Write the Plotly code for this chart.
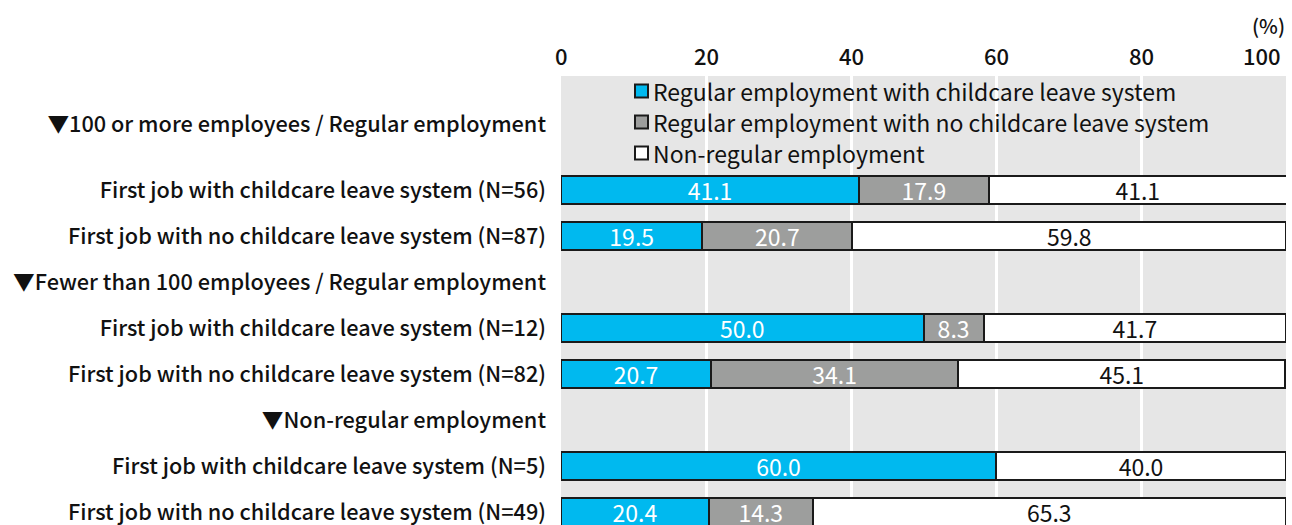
import plotly.graph_objects as go

# Row labels (top to bottom) and section headers
rows = [
    "First job with childcare leave system (N=56)",
    "First job with no childcare leave system (N=87)",
    "First job with childcare leave system (N=12)",
    "First job with no childcare leave system (N=82)",
    "First job with childcare leave system (N=5)",
    "First job with no childcare leave system (N=49)",
]
headers = [
    "▼100 or more employees / Regular employment",
    "▼Fewer than 100 employees / Regular employment",
    "▼Non-regular employment",
]

series_names = [
    "Regular employment with childcare leave system",
    "Regular employment with no childcare leave system",
    "Non-regular employment",
]
regular_with_leave = [41.1, 19.5, 50.0, 20.7, 60.0, 20.4]
regular_no_leave = [17.9, 20.7, 8.3, 34.1, 0.0, 14.3]
non_regular = [41.1, 59.8, 41.7, 45.1, 40.0, 65.3]

tick_values = [0, 20, 40, 60, 80, 100]
tick_labels = ["0", "20", "40", "60", "80", "100"]

# Styling
colors = ["#00b9ef", "#9d9e9d", "#ffffff"]
text_colors = ["#ffffff", "#ffffff", "#111111"]
FONT = "Noto Sans CJK JP"
W, H = 1292, 525
M_L, M_R, M_T, M_B = 561, 6, 76, 0

# Vertical slots: each group is a header followed by its two rows
row_slots = [0, 1, 3, 4, 6, 7]
header_slots = [-1.435, 2, 5]
y_range = [7.283, -2.478]

fig = go.Figure()
for name, vals, col, tcol in zip(series_names,
                                 [regular_with_leave, regular_no_leave, non_regular],
                                 colors, text_colors):
    fig.add_trace(go.Bar(
        name=name,
        x=vals,
        y=row_slots,
        orientation="h",
        width=0.59,
        marker=dict(color=col, line=dict(color="#1a1a1a", width=2)),
        text=[f"{v:.1f}" if v > 0 else "" for v in vals],
        textposition="inside",
        insidetextanchor="middle",
        constraintext="none",
        textangle=0,
        textfont=dict(family=FONT, size=23, color=tcol),
        showlegend=False,
        hoverinfo="x+name",
    ))

fig.update_layout(
    barmode="stack",
    width=W, height=H,
    margin=dict(l=M_L, r=M_R, t=M_T, b=M_B),
    paper_bgcolor="#ffffff",
    plot_bgcolor="#e6e6e6",
    font=dict(family=FONT, color="#111111"),
    xaxis=dict(
        range=[0, 100],
        tickvals=tick_values[1:-1],
        showticklabels=False,
        showgrid=True, gridcolor="#ffffff", gridwidth=3,
        zeroline=False, showline=False, ticks="",
        fixedrange=True,
    ),
    yaxis=dict(
        range=y_range,
        tickvals=row_slots + header_slots,
        ticktext=rows + headers,
        tickfont=dict(family=FONT, size=21.7, color="#111111", weight=500),
        ticklabelstandoff=14,
        ticklabeloverflow="allow",
        showgrid=False, zeroline=False, showline=False, ticks="",
        fixedrange=True,
    ),
)

# Percentage scale above the plot area
plot_w, plot_h = W - M_L - M_R, H - M_T - M_B


def paper_y(py):
    return (H - M_B - py) / plot_h


for v, lab in zip(tick_values, tick_labels):
    last = v == tick_values[-1]
    fig.add_annotation(
        x=v, xref="x", y=paper_y(55), yref="paper", yanchor="middle",
        text=lab, showarrow=False,
        xanchor="right" if last else "center",
        xshift=-3 if last else 0,
        font=dict(family=FONT, size=22, color="#111111", weight=500),
    )

fig.add_annotation(
    x=1, xref="paper", xanchor="right", xshift=1,
    y=paper_y(26), yref="paper", yanchor="middle",
    text="(%)", showarrow=False,
    font=dict(family=FONT, size=20, color="#111111", weight=500),
)

# Legend drawn inside the top of the plot area
legend_px_y = [91, 122, 153]
box_x0, box_x1, text_x = 635, 648, 651
for name, col, py in zip(series_names, colors, legend_px_y):
    yc = paper_y(py)
    half = 6.5 / plot_h
    fig.add_shape(
        type="rect", xref="paper", yref="paper",
        x0=(box_x0 - M_L) / plot_w, x1=(box_x1 - M_L) / plot_w,
        y0=yc - half, y1=yc + half,
        fillcolor=col, line=dict(color="#1a1a1a", width=2),
    )
    fig.add_annotation(
        x=(text_x - M_L) / plot_w, xref="paper", xanchor="left",
        y=yc, yref="paper", yanchor="middle",
        text=name, showarrow=False,
        font=dict(family=FONT, size=23, color="#111111"),
    )

fig.write_html("out.html")
